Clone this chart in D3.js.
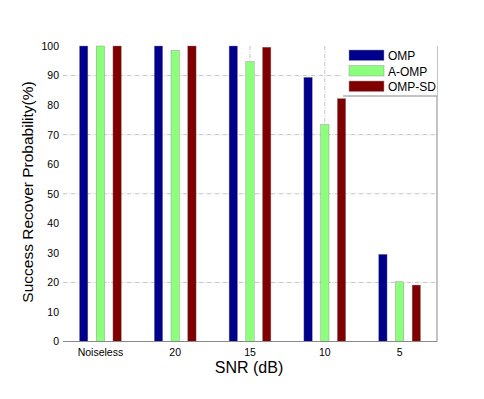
<!DOCTYPE html>
<html><head><meta charset="utf-8">
<script src="https://cdn.jsdelivr.net/npm/d3@7"></script>
<style>body{margin:0;background:#fff}svg{font-family:"Liberation Sans",Arial,sans-serif}</style>
</head><body><svg id="c" width="484" height="399"></svg>
<script>
const categories = ["Noiseless","20","15","10","5"];
const seriesNames = ["OMP","A-OMP","OMP-SD"];
const ompValues = [100,100,100,89.4,29.5];
const aompValues = [100,98.5,94.7,73.4,20.2];
const ompsdValues = [100,100,99.6,82.2,19.1];
const colors = ["#00008c","#8cff7c","#800000"];
const yTicks = [0,10,20,30,40,50,60,70,80,90,100];
const hGrid = [20,50,70,90];
const vGrid = ["15","10"];

const series = [ompValues, aompValues, ompsdValues];
const svg = d3.select("#c");
const m = {l:63, r:437, t:46, b:341.5};
const x = d3.scaleBand().domain(categories).range([m.l, m.r]).padding(0);
const inner = d3.scaleBand().domain(seriesNames).range([-20.9, 20.9]).paddingInner(0.5).paddingOuter(0);
const y = d3.scaleLinear().domain([0,100]).range([m.b, m.t]);

// grid
svg.append("g").selectAll("line").data(hGrid).join("line")
  .attr("x1", m.l).attr("x2", m.r).attr("y1", d=>y(d)).attr("y2", d=>y(d))
  .attr("stroke","#aaa").attr("stroke-width",0.7).attr("stroke-dasharray","4,1.5,1,1.5");
svg.append("g").selectAll("line").data(vGrid).join("line")
  .attr("x1", d=>x(d)+x.bandwidth()/2).attr("x2", d=>x(d)+x.bandwidth()/2)
  .attr("y1", m.t).attr("y2", m.b)
  .attr("stroke","#aaa").attr("stroke-width",0.7).attr("stroke-dasharray","4,1.5,1,1.5");

// bars
series.forEach((vals, si) => {
  svg.append("g").selectAll("rect").data(vals).join("rect")
    .attr("x", (d,i)=> x(categories[i]) + x.bandwidth()/2 + inner(seriesNames[si]))
    .attr("width", inner.bandwidth())
    .attr("y", d=>y(d)).attr("height", d=>m.b - y(d))
    .attr("fill", colors[si]).attr("stroke","#888").attr("stroke-width",0.4);
});

// axes lines
svg.append("line").attr("x1",m.l).attr("x2",m.r).attr("y1",m.b).attr("y2",m.b).attr("stroke","#888").attr("stroke-width",1);
svg.append("line").attr("x1",m.r).attr("x2",m.r).attr("y1",m.t).attr("y2",m.b).attr("stroke","#888").attr("stroke-width",1);

// y ticks
const ya = d3.axisLeft(y).tickValues(yTicks).tickSize(0).tickPadding(4);
const yg = svg.append("g").attr("transform",`translate(${m.l},0)`).call(ya);
yg.select(".domain").remove();
yg.selectAll("text").attr("font-size",10.5).attr("fill","#000").attr("font-family","Liberation Sans, Arial, sans-serif");

// x ticks
const xa = d3.axisBottom(x).tickSize(0).tickPadding(7);
const xg = svg.append("g").attr("transform",`translate(0,${m.b})`).call(xa);
xg.select(".domain").remove();
xg.selectAll("text").attr("font-size",10.5).attr("fill","#000").attr("font-family","Liberation Sans, Arial, sans-serif");

// labels
svg.append("text").attr("x",249).attr("y",373).attr("text-anchor","middle").attr("font-size",16).text("SNR (dB)");
svg.append("text").attr("transform","translate(33,192) rotate(-90)").attr("text-anchor","middle").attr("font-size",15.5).text("Success Recover Probability(%)");

// legend
const lg = svg.append("g");
lg.append("rect").attr("x",343).attr("y",46).attr("width",94).attr("height",50).attr("fill","#fff");
lg.append("line").attr("x1",343).attr("x2",437).attr("y1",96).attr("y2",96).attr("stroke","#888");
seriesNames.forEach((s,i)=>{
  const yy = 50 + i*15.5;
  lg.append("rect").attr("x",349).attr("y",yy).attr("width",35).attr("height",10.5).attr("fill",colors[i]).attr("stroke","#999").attr("stroke-width",0.5);
  lg.append("text").attr("x",388).attr("y",yy+10).attr("font-size",12).text(s);
});
</script></body></html>
